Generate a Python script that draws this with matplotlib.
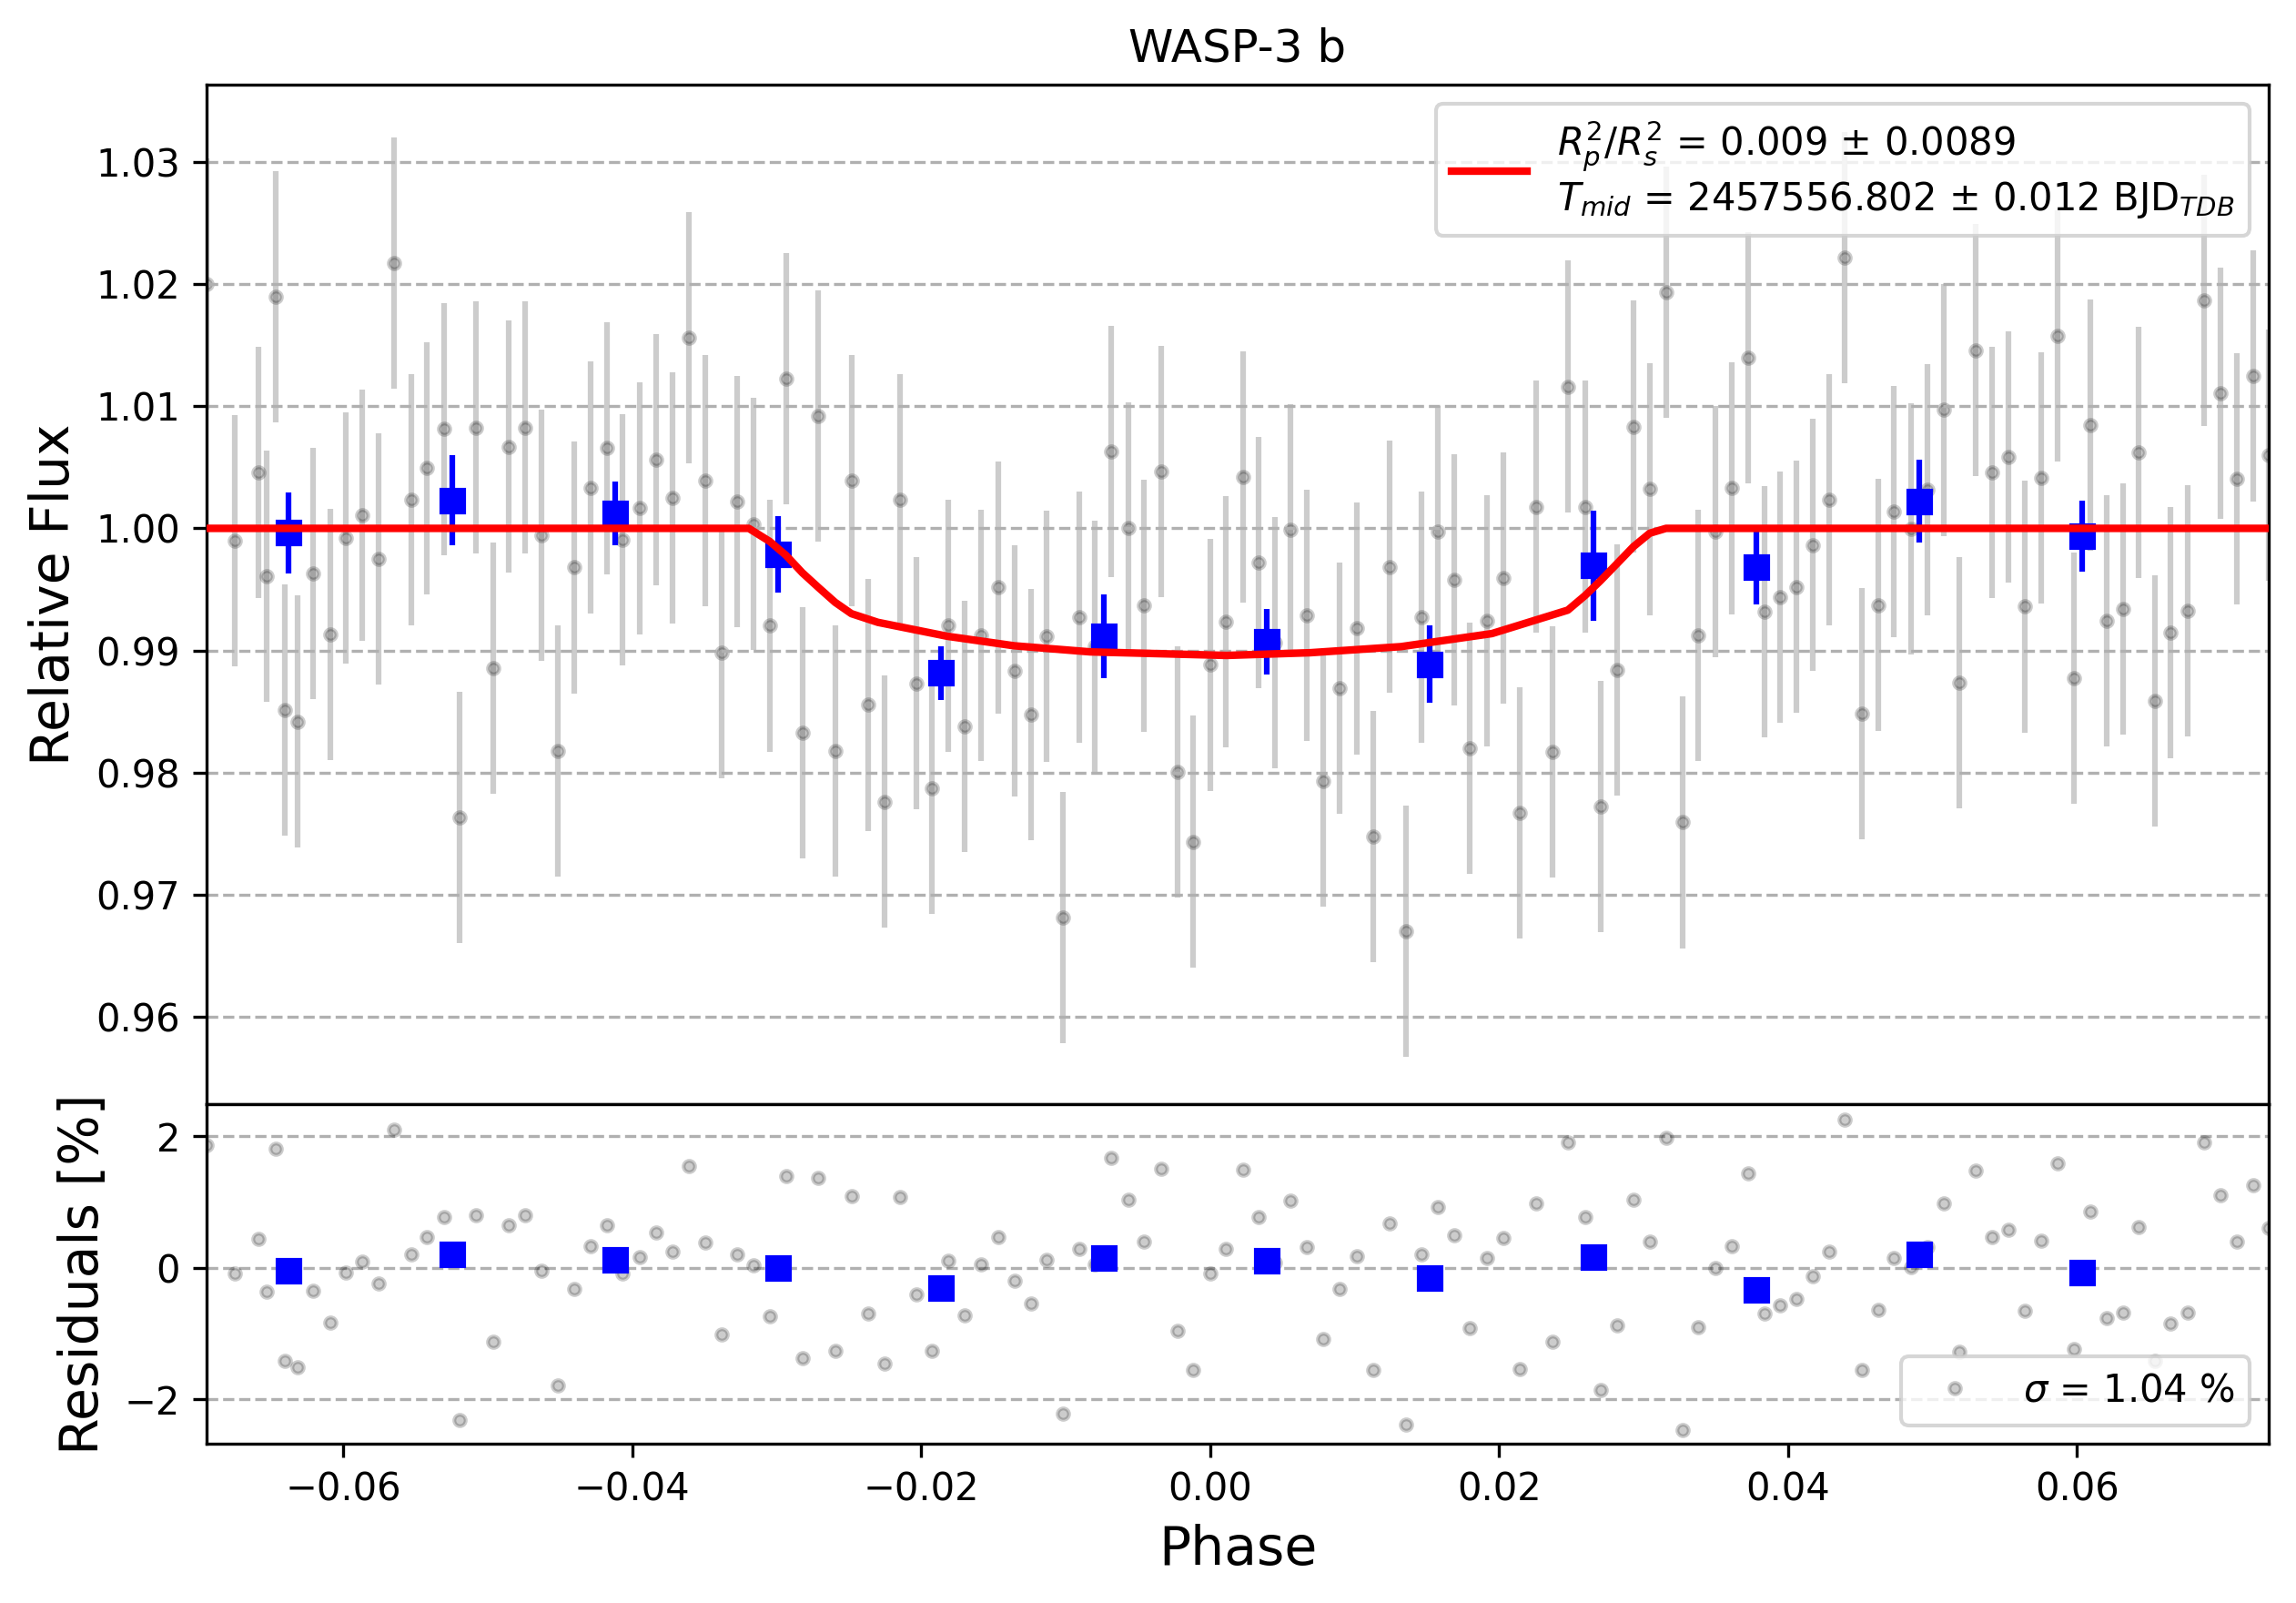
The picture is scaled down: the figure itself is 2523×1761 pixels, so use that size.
import matplotlib
matplotlib.use("Agg")
import matplotlib.pyplot as plt
import numpy as np

title = "WASP-3 b"

phase = [
    -0.06946, -0.06753, -0.06590, -0.06528, -0.06466, -0.06407, -0.06319, -0.06207,
    -0.06092, -0.05980, -0.05867, -0.05759, -0.05647, -0.05532, -0.05420, -0.05305,
    -0.05193, -0.05080, -0.04964, -0.04853, -0.04742, -0.04626,
    -0.04517, -0.04404, -0.04290, -0.04177, -0.04066, -0.03950, -0.03837, -0.03723,
    -0.03610, -0.03497, -0.03383, -0.03276, -0.03163, -0.03049, -0.02936, -0.02823,
    -0.02711, -0.02596, -0.02483, -0.02369, -0.02256,
    -0.02149, -0.02035, -0.01924, -0.01810, -0.01697, -0.01584, -0.01468, -0.01355,
    -0.01242, -0.01130, -0.01021, -0.00908, -0.00796, -0.00683, -0.00569, -0.00456,
    -0.00341, -0.00229, -0.00116, 0.00000, 0.00109,
    0.00229, 0.00333, 0.00445, 0.00558, 0.00671, 0.00785, 0.00898, 0.01012,
    0.01127, 0.01240, 0.01354, 0.01465, 0.01574, 0.01688, 0.01799, 0.01914,
    0.02028, 0.02141, 0.02255, 0.02368, 0.02475,
    0.02595, 0.02700, 0.02815, 0.02929, 0.03042, 0.03155, 0.03267, 0.03380,
    0.03494, 0.03609, 0.03725, 0.03834, 0.03943, 0.04056, 0.04168, 0.04281,
    0.04393, 0.04508, 0.04621, 0.04734,
    0.04848, 0.04963, 0.05077, 0.05184, 0.05297, 0.05411, 0.05524, 0.05637,
    0.05751, 0.05864, 0.05976, 0.06091, 0.06207, 0.06318, 0.06425, 0.06536,
    0.06649, 0.06763, 0.06878, 0.06990, 0.07103, 0.07218, 0.07326,
]

flux = [
    1.02000, 0.99900, 1.00456, 0.99608, 1.01900, 0.98510, 0.98418, 0.99629,
    0.99130, 0.99922, 1.00107, 0.99751, 1.02174, 1.00235, 1.00492, 1.00813,
    0.97634, 1.00827, 0.98852, 1.00670, 1.00827, 0.99943,
    0.98175, 0.99679, 1.00335, 1.00656, 0.99907, 1.00164, 1.00563, 1.00249,
    1.01561, 1.00392, 0.98981, 1.00221, 1.00036, 0.99202, 1.01226, 0.98325,
    1.00919, 0.98175, 1.00392, 0.98553, 0.97762,
    1.00235, 0.98731, 0.97869, 0.99202, 0.98375, 0.99123, 0.99515, 0.98831,
    0.98475, 0.99116, 0.96814, 0.99273, 0.99031, 1.00627, 1.00000, 0.99366,
    1.00463, 0.98004, 0.97434, 0.98881, 0.99237,
    1.00421, 0.99722, 0.99066, 0.99986, 0.99287, 0.97933, 0.98689, 0.99180,
    0.97477, 0.99686, 0.96700, 0.99273, 0.99971, 0.99579, 0.98197, 0.99244,
    0.99594, 0.97669, 1.00178, 0.98168, 1.01162,
    1.00178, 0.97719, 0.98838, 1.00834, 1.00321, 1.01932, 0.97591, 0.99123,
    0.99971, 1.00328, 1.01397, 0.99316, 0.99437, 0.99522, 0.99865, 1.00235,
    1.02217, 0.98482, 0.99373, 1.00135,
    0.99993, 1.00314, 1.00969, 0.98738, 1.01461, 1.00456, 1.00584, 0.99359,
    1.00413, 1.01575, 0.98774, 1.00848, 0.99244, 0.99337, 1.00620, 0.98589,
    0.99145, 0.99323, 1.01867, 1.01105, 1.00406, 1.01247, 1.00599,
]

flux_err = 0.0103

residuals = [
    1.86, -0.09, 0.44, -0.37, 1.81, -1.42, -1.51, -0.35,
    -0.84, -0.07, 0.09, -0.24, 2.10, 0.21, 0.47, 0.77,
    -2.31, 0.80, -1.13, 0.65, 0.80, -0.05,
    -1.79, -0.32, 0.33, 0.64, -0.09, 0.16, 0.54, 0.24,
    1.55, 0.39, -1.02, 0.21, 0.04, -0.73, 1.40, -1.37,
    1.37, -1.26, 1.09, -0.70, -1.45,
    1.08, -0.41, -1.26, 0.11, -0.72, 0.05, 0.47, -0.20,
    -0.54, 0.12, -2.22, 0.29, 0.05, 1.67, 1.04, 0.40,
    1.51, -0.96, -1.55, -0.08, 0.29,
    1.49, 0.77, 0.08, 1.02, 0.32, -1.08, -0.32, 0.17,
    -1.55, 0.68, -2.38, 0.21, 0.93, 0.50, -0.92, 0.15,
    0.45, -1.54, 0.98, -1.12, 1.90,
    0.77, -1.86, -0.88, 1.04, 0.40, 1.98, -2.46, -0.90,
    -0.01, 0.33, 1.44, -0.69, -0.57, -0.48, -0.13, 0.24,
    2.25, -1.55, -0.64, 0.15,
    0.01, 0.31, 0.98, -1.28, 1.48, 0.47, 0.58, -0.65,
    0.41, 1.59, -1.24, 0.85, -0.76, -0.68, 0.62, -1.42,
    -0.85, -0.68, 1.90, 1.10, 0.40, 1.25, 0.60,
]

# transit model
model_phase = [-0.06946, -0.03194, -0.03049, -0.02936, -0.02823, -0.02711, -0.02596,
               -0.02483, -0.02300, -0.01820, -0.01357, -0.00830, 0.00113, 0.00690,
               0.01320, 0.01950, 0.02475, 0.02595, 0.02700, 0.02815, 0.02929, 0.03042,
               0.03155, 0.07326]
model_flux = [1.0, 1.0, 0.99893, 0.99779, 0.99636, 0.99515, 0.99394,
              0.99301, 0.99230, 0.99116, 0.99038, 0.98988, 0.98959, 0.98981,
              0.99031, 0.99138, 0.99330, 0.99450, 0.99570, 0.99710, 0.99850, 0.99960,
              1.0, 1.0]

# binned data
bin_phase = [-0.06382, -0.05248, -0.04120, -0.02992, -0.01865, -0.00738,
             0.00390, 0.01518, 0.02651, 0.03779, 0.04906, 0.06034]
bin_flux = [0.99964, 1.00228, 1.00121, 0.99786, 0.98817, 0.99116,
            0.99073, 0.98888, 0.99694, 0.99679, 1.00221, 0.99936]
bin_err = [0.00331, 0.00370, 0.00260, 0.00314, 0.00220, 0.00346,
           0.00270, 0.00320, 0.00453, 0.00300, 0.00340, 0.00290]
bin_resid = [-0.05, 0.21, 0.12, 0.00, -0.31, 0.15,
             0.11, -0.16, 0.16, -0.33, 0.20, -0.07]

legend_label = ("$R_{p}^{2}/R_{s}^{2}$ = 0.009 \u00b1 0.0089\n"
                "$T_{mid}$ = 2457556.802 \u00b1 0.012 BJD$_{TDB}$")
sigma_label = r"$\sigma$ = 1.04 %"

fig = plt.figure(figsize=(8.41, 5.87), dpi=300)
gs = fig.add_gridspec(2, 1, height_ratios=[3, 1], hspace=0,
                      left=0.0900, right=0.9881, top=0.9472, bottom=0.0991)
ax_lc = fig.add_subplot(gs[0])
ax_res = fig.add_subplot(gs[1])

ax_lc.set_title(title)
ax_lc.errorbar(phase, flux, yerr=flux_err, ls='none', marker='.',
               color='black', alpha=0.2, zorder=1)
ax_lc.errorbar(bin_phase, bin_flux, yerr=bin_err, ls='none', marker='s',
               color='blue', zorder=2)
ax_lc.plot(model_phase, model_flux, 'r', lw=2, zorder=1000, label=legend_label)
ax_lc.set_ylabel('Relative Flux', fontsize=14)
ax_lc.grid(True, axis='y', ls='--')
ax_lc.legend(loc='upper right')
ax_lc.set_xlim(min(phase), max(phase))
ax_lc.set_ylim(0.95282, 1.03635)
ax_lc.set_yticks([0.96, 0.97, 0.98, 0.99, 1.00, 1.01, 1.02, 1.03])
ax_lc.get_xaxis().set_visible(False)

ax_res.plot(phase, residuals, ls='none', marker='.', color='black', alpha=0.2,
            label=sigma_label)
ax_res.plot(bin_phase, bin_resid, ls='none', marker='s', color='blue', zorder=2)
ax_res.set_xlim(min(phase), max(phase))
ax_res.set_ylim(-2.68, 2.485)
ax_res.set_yticks([-2, 0, 2])
ax_res.grid(True, axis='y', ls='--')
ax_res.set_ylabel('Residuals [%]', fontsize=14)
ax_res.set_xlabel('Phase', fontsize=14)
ax_res.legend(loc='lower right')

fig.savefig('out.png', dpi=300)
